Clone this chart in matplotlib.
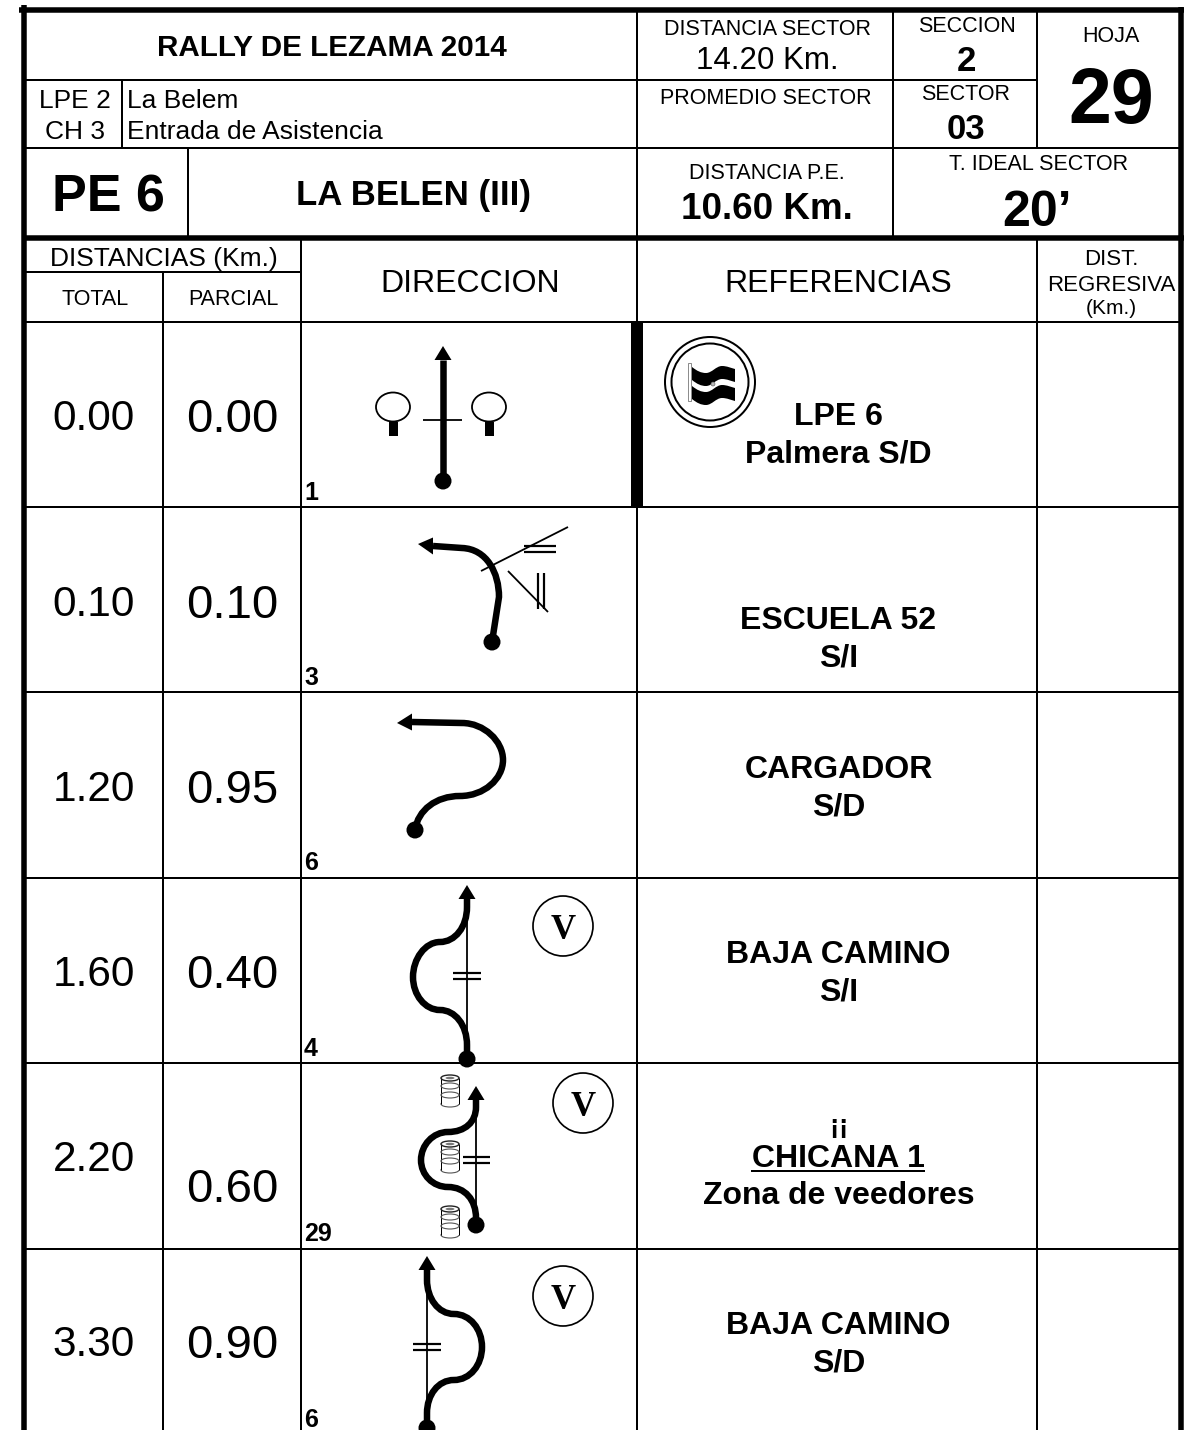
import matplotlib
matplotlib.use("Agg")
import matplotlib.pyplot as plt
from matplotlib.path import Path
from matplotlib.patches import PathPatch, Polygon, Circle, Ellipse, Rectangle

# CONSTANTS
W = 1202
H = 1430
DPI = 100
FONT = "Liberation Sans"
PX = 72 / DPI  # points per pixel

# DATA
totals = ["0.00", "0.10", "1.20", "1.60", "2.20", "3.30"]
partials = ["0.00", "0.10", "0.95", "0.40", "0.60", "0.90"]
note_numbers = ["1", "3", "6", "4", "29", "6"]
row_tops = [322, 507, 692, 878, 1063, 1249]
total_y = [415, 601, 786, 971, 1156, 1341]
partial_y = [415, 601, 786, 971, 1185, 1341]
references = [
    [("LPE 6", 414), ("Palmera S/D", 451)],
    [("ESCUELA 52", 618), ("S/I", 655)],
    [("CARGADOR", 767), ("S/D", 804)],
    [("BAJA CAMINO", 952), ("S/I", 989)],
    [("CHICANA 1", 1156), ("Zona de veedores", 1193)],
    [("BAJA CAMINO", 1323), ("S/D", 1360)],
]

# Route sketches: a start point, then 1 point = straight line, 3 points = cubic curve
route_1 = [(443, 481), [(443, 360)]]
route_3 = [(492, 642), [(499, 597)], [(499, 573), (487, 549), (462, 548)], [(433, 546)]]
route_6 = [(415, 830), [(418, 810), (436, 796), (460, 796)],
           [(484, 796), (503, 779), (503, 760)], [(503, 741), (484, 723), (462, 723)], [(412, 722)]]
route_4 = [(467, 1059), [(467, 1045)], [(467, 1025), (455, 1010), (440, 1010)],
           [(425, 1010), (413, 995), (413, 977)], [(413, 959), (425, 942), (440, 942)],
           [(455, 942), (467, 927), (467, 907)], [(467, 899)]]
route_29 = [(476, 1225), [(476, 1218)], [(476, 1200), (465, 1187), (448, 1187)],
            [(433, 1187), (421, 1175), (421, 1160)], [(421, 1145), (433, 1132), (448, 1132)],
            [(465, 1132), (476, 1122), (476, 1107)], [(476, 1100)]]
route_6b = [(427, 1428), [(427, 1413)], [(427, 1395), (438, 1380), (454, 1380)],
            [(470, 1380), (482, 1365), (482, 1347)], [(482, 1329), (470, 1314), (454, 1314)],
            [(438, 1314), (427, 1298), (427, 1280)], [(427, 1270)]]

fig = plt.figure(figsize=(W / DPI, H / DPI), dpi=DPI)
ax = fig.add_axes([0, 0, 1, 1])
ax.set_xlim(0, W)
ax.set_ylim(H, 0)
ax.axis("off")


def txt(x, y, s, size, bold=False, ha="center", family=FONT, color="black"):
    # y is the visual middle of the capitals, turned into a baseline
    base = y + 0.358 * size / PX
    ax.text(x, base, s, fontsize=size, fontweight="bold" if bold else "normal",
            ha=ha, va="baseline", family=family, color=color, zorder=6)


def hline(y, x0, x1, px=2):
    ax.plot([x0, x1], [y, y], color="black", lw=px * PX, solid_capstyle="butt", zorder=3)


def vline(x, y0, y1, px=2):
    ax.plot([x, x], [y0, y1], color="black", lw=px * PX, solid_capstyle="butt", zorder=3)


def thin(x0, y0, x1, y1, px=1.8):
    ax.plot([x0, x1], [y0, y1], color="black", lw=px * PX, solid_capstyle="butt", zorder=4)


def route(pts, tip, half=8.5, px=6.5):
    verts = [pts[0]]
    codes = [Path.MOVETO]
    for seg in pts[1:]:
        verts.extend(seg)
        codes.extend([Path.LINETO] if len(seg) == 1 else [Path.CURVE4] * 3)
    ax.add_patch(PathPatch(Path(verts, codes), fc="none", ec="black", lw=px * PX,
                           capstyle="butt", zorder=5))
    # arrow head from the last point to the tip
    bx, by = verts[-1]
    if tip[0] == bx:
        head = [tip, (bx - half, by), (bx + half, by)]
    else:
        head = [tip, (bx, by - half), (bx, by + half)]
    ax.add_patch(Polygon(head, closed=True, fc="black", ec="none", zorder=5))
    # start dot
    ax.add_patch(Circle(pts[0], 8.5, fc="black", ec="none", zorder=5))


def badge(x, y):
    ax.add_patch(Circle((x, y), 30, fc="white", ec="black", lw=1.7 * PX, zorder=4))
    txt(x, y + 1, "V", 25, bold=True, family="Liberation Serif")


def barrel(x, y):
    c = "#555555"
    ax.add_patch(Ellipse((x, y + 13), 18, 6, fc="white", ec=c, lw=0.8, zorder=4))
    ax.add_patch(Rectangle((x - 9, y - 13), 18, 26, fc="white", ec="none", zorder=4))
    thin(x - 9, y - 13, x - 9, y + 13, 1)
    thin(x + 9, y - 13, x + 9, y + 13, 1)
    for dy in (-5, 4):
        ax.add_patch(Ellipse((x, y + dy), 18, 6, fc="none", ec=c, lw=0.8, zorder=4))
    ax.add_patch(Ellipse((x, y - 13), 18, 6, fc="white", ec="#222222", lw=1, zorder=4))
    ax.add_patch(Ellipse((x, y - 13), 9, 2.5, fc="#777777", ec="none", zorder=4))


def flag_band(y):
    # top edge left to right, then the same edge back 13 px lower
    edge = [(692, y), (697, y + 4), (701, y + 6), (706, y + 6), (712, y + 6), (716, y - 1),
            (722, y - 1), (727, y - 1), (731, y + 1), (735, y + 2)]
    low = [(px, py + 13) for px, py in reversed(edge)]
    verts = edge + low + [edge[0]]
    codes = ([Path.MOVETO] + [Path.CURVE4] * 9 + [Path.LINETO] + [Path.CURVE4] * 9
             + [Path.CLOSEPOLY])
    ax.add_patch(PathPatch(Path(verts, codes), fc="black", ec="none", zorder=5))


# frame lines
hline(10, 19, 1184, 5.5)
hline(237.5, 22, 1184, 5.5)
vline(24, 5, H, 5.5)
vline(1181, 7, H, 5.5)
hline(80, 24, 1037)
hline(148, 24, 1181)
hline(322, 24, 1181)
hline(272, 24, 301)
for top in row_tops[1:]:
    hline(top, 24, 1181)
vline(637, 10, H)
vline(893, 10, 237)
vline(1037, 10, 148)
vline(1037, 237, H)
vline(122, 80, 148)
vline(188, 148, 237)
vline(163, 272, H)
vline(301, 237, H)
ax.add_patch(Rectangle((631, 322), 12, 185, fc="black", ec="none", zorder=3))

# header
txt(332, 45, "RALLY DE LEZAMA 2014", 21.3, bold=True)
txt(75, 99, "LPE 2", 19)
txt(75, 130, "CH 3", 19)
txt(127, 99, "La Belem", 19, ha="left")
txt(127, 130, "Entrada de Asistencia", 19, ha="left")
txt(108, 193, "PE 6", 37.5, bold=True)
txt(414, 193, "LA BELEN (III)", 25, bold=True)
txt(767, 27, "DISTANCIA SECTOR", 15.5)
txt(767, 58, "14.20 Km.", 22.5)
txt(766, 96, "PROMEDIO SECTOR", 15.5)
txt(967, 24, "SECCION", 15.5)
txt(966, 59, "2", 25, bold=True)
txt(966, 92, "SECTOR", 15.5)
txt(966, 127, "03", 25, bold=True)
txt(1111, 34, "HOJA", 15.5)
txt(1111, 95, "29", 55.5, bold=True)
txt(767, 171, "DISTANCIA P.E.", 15.5)
txt(767, 206, "10.60 Km.", 26.5, bold=True)
txt(1039, 162, "T. IDEAL SECTOR", 15.5)
txt(1037, 208, "20’", 36, bold=True)
txt(164, 257, "DISTANCIAS (Km.)", 19)
txt(95, 297, "TOTAL", 15.5)
txt(233, 297, "PARCIAL", 15.5)
txt(470, 281, "DIRECCION", 23)
txt(838, 281, "REFERENCIAS", 23)
txt(1111, 257, "DIST.", 16)
txt(1111, 283, "REGRESIVA", 16)
txt(1111, 307, "(Km.)", 15)

# rows
for i in range(len(totals)):
    txt(94, total_y[i], totals[i], 30.5)
    txt(232, partial_y[i], partials[i], 34)
    txt(304, row_tops[i] + 169, note_numbers[i], 18, bold=True, ha="left")
    for line, y in references[i]:
        txt(838.5, y, line, 23, bold=True)

# the two opening marks above CHICANA 1 sit close together
txt(834, 1124, "¡", 20, bold=True)
txt(843, 1124, "¡", 20, bold=True)

# underline of CHICANA 1
hline(1171, 751, 925, 2)

# row 1: palms and crossing
route(route_1, (443, 346))
thin(423, 420, 462, 420)
for cx in (393, 489):
    ax.add_patch(Ellipse((cx, 407), 34, 29, fc="white", ec="black", lw=1.8 * PX, zorder=4))
    ax.add_patch(Rectangle((cx - 4.5, 421.5), 9, 14.5, fc="black", ec="none", zorder=4))

# flag badge
ax.add_patch(Circle((710, 382), 45, fc="white", ec="black", lw=2 * PX, zorder=4))
ax.add_patch(Circle((710, 382), 38.5, fc="none", ec="black", lw=2 * PX, zorder=4))
ax.add_patch(Rectangle((687.5, 363), 3, 38, fc="white", ec="#777777", lw=0.6, zorder=5))
flag_band(367)
flag_band(386)
ax.add_patch(Circle((713, 384), 2, fc="#bbbbbb", ec="#555555", lw=0.4, zorder=5))

# row 2: fork
route(route_3, (418, 544))
thin(481, 571, 568, 527)
thin(524, 546, 556, 546, 2.2)
thin(524, 552, 556, 552, 2.2)
thin(508, 571, 548, 612)
thin(538, 573, 538, 609, 2.2)
thin(544, 573, 544, 609, 2.2)

# row 3
route(route_6, (397, 723))

# row 4
route(route_4, (467, 885))
thin(467, 905, 467, 1035)
thin(453, 973, 481, 973, 2.2)
thin(453, 979, 481, 979, 2.2)
badge(563, 926)

# row 5: chicane
barrel(450, 1091)
barrel(450, 1157)
barrel(450, 1222)
route(route_29, (476, 1086))
thin(476, 1105, 476, 1220)
thin(463, 1157, 490, 1157, 2.2)
thin(463, 1163, 490, 1163, 2.2)
badge(583, 1103)

# row 6
route(route_6b, (427, 1256))
thin(427, 1285, 427, 1405)
thin(413, 1344, 441, 1344, 2.2)
thin(413, 1350, 441, 1350, 2.2)
badge(563, 1296)

fig.savefig("out.png", dpi=DPI, facecolor="white")
